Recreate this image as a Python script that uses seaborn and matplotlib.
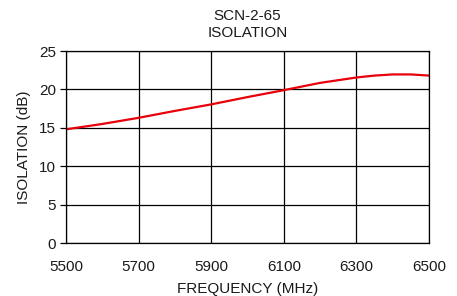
import matplotlib
matplotlib.use("Agg")
import matplotlib.pyplot as plt
import seaborn as sns
import pandas as pd

freq_mhz = [5500, 5600, 5700, 5800, 5900, 6000, 6100, 6200, 6300, 6350, 6400, 6450, 6500]
isolation_db = [14.8, 15.5, 16.3, 17.2, 18.05, 19.0, 19.9, 20.85, 21.55, 21.8, 21.95, 21.95, 21.8]
x_ticks = [5500, 5700, 5900, 6100, 6300, 6500]
y_ticks = [0, 5, 10, 15, 20, 25]

sns.set_theme(style="white")
plt.rcParams['font.family'] = ['Liberation Sans', 'DejaVu Sans']

df = pd.DataFrame({"freq": freq_mhz, "iso": isolation_db})

fig = plt.figure(figsize=(4.57, 2.96), dpi=100)
ax = fig.add_axes([0.1444, 0.179, 0.7943, 0.6487])
sns.lineplot(data=df, x="freq", y="iso", ax=ax, color="#e8000b", linewidth=1.6)

txt = "#1a1a1a"
ax.set_xlim(5500, 6500)
ax.set_ylim(0, 25)
ax.set_xticks(x_ticks)
ax.set_yticks(y_ticks)
ax.grid(True, color="black", linewidth=0.9)
for s in ax.spines.values():
    s.set_color("black")
    s.set_linewidth(0.9)
ax.tick_params(axis="both", labelsize=11, labelcolor=txt, color="black", length=4, width=0.9,
               direction="out", bottom=False, left=True)
ax.tick_params(axis="x", pad=8)
ax.tick_params(axis="y", pad=3)
ax.set_xlabel("FREQUENCY (MHz)", fontsize=11, labelpad=6, color=txt)
ax.set_ylabel("ISOLATION (dB)", fontsize=11, labelpad=6, color=txt)
ax.set_title("SCN-2-65\nISOLATION", fontsize=11, pad=10, linespacing=1.25, color=txt)

fig.savefig("out.png", dpi=100)
